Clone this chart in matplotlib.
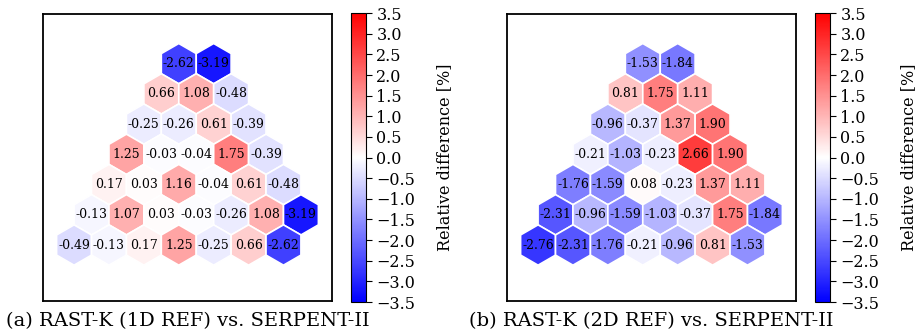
import numpy as np
import matplotlib
matplotlib.use("Agg")
import matplotlib.pyplot as plt
from matplotlib.patches import RegularPolygon
from matplotlib.colors import Normalize
from matplotlib.cm import ScalarMappable

plt.rcParams["font.family"] = "DejaVu Serif"

# relative difference [%] per assembly, top row first
rows_1d = [
    [-2.62, -3.19],
    [0.66, 1.08, -0.48],
    [-0.25, -0.26, 0.61, -0.39],
    [1.25, -0.03, -0.04, 1.75, -0.39],
    [0.17, 0.03, 1.16, -0.04, 0.61, -0.48],
    [-0.13, 1.07, 0.03, -0.03, -0.26, 1.08, -3.19],
    [-0.49, -0.13, 0.17, 1.25, -0.25, 0.66, -2.62],
]
rows_2d = [
    [-1.53, -1.84],
    [0.81, 1.75, 1.11],
    [-0.96, -0.37, 1.37, 1.90],
    [-0.21, -1.03, -0.23, 2.66, 1.90],
    [-1.76, -1.59, 0.08, -0.23, 1.37, 1.11],
    [-2.31, -0.96, -1.59, -1.03, -0.37, 1.75, -1.84],
    [-2.76, -2.31, -1.76, -0.21, -0.96, 0.81, -1.53],
]
captions = ["(a) RAST-K (1D REF) vs. SERPENT-II", "(b) RAST-K (2D REF) vs. SERPENT-II"]
cbar_ticks = np.arange(-3.5, 3.51, 0.5)

cmap = plt.get_cmap("bwr")
norm = Normalize(vmin=-3.5, vmax=3.5)
dy = np.sqrt(3) / 2
radius = 1 / np.sqrt(3)


def draw_map(ax, rows):
    for r, row in enumerate(rows):
        for c, v in enumerate(row):
            x = c - r / 2
            y = -r * dy
            hexagon = RegularPolygon((x, y), numVertices=6, radius=radius,
                                     facecolor=cmap(norm(v)), edgecolor="white", linewidth=1.2)
            ax.add_patch(hexagon)
            ax.text(x, y, f"{v:.2f}", ha="center", va="center", fontsize=9)
    ax.set_xlim(-3.89, 4.39)
    ax.set_ylim(-6.80, 1.42)
    ax.set_aspect("equal")
    ax.set_xticks([])
    ax.set_yticks([])
    for s in ax.spines.values():
        s.set_linewidth(1.3)


fig = plt.figure(figsize=(9.21, 3.34), dpi=100)
ax_lefts = [43 / 921, 507 / 921]
cb_lefts = [351 / 921, 815 / 921]
for rows, cap, axl, cbl in zip([rows_1d, rows_2d], captions, ax_lefts, cb_lefts):
    ax = fig.add_axes([axl, 0.0958, 289 / 921, 0.865])
    draw_map(ax, rows)
    ax.text(0.5, -0.07, cap, transform=ax.transAxes, ha="center", va="center", fontsize=14)
    cax = fig.add_axes([cbl, 0.0958, 15 / 921, 0.865])
    cb = fig.colorbar(ScalarMappable(norm=norm, cmap=cmap), cax=cax, ticks=cbar_ticks)
    cb.ax.tick_params(labelsize=11.5, length=4)
    cb.set_label("Relative difference [%]", fontsize=11.5, labelpad=15)

fig.savefig("out.png", dpi=100)
